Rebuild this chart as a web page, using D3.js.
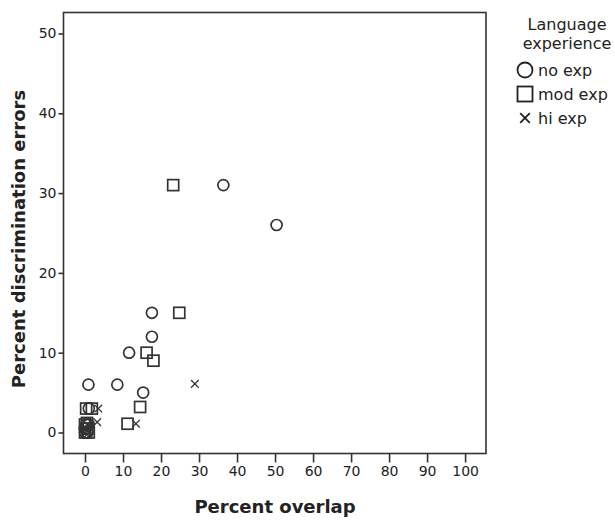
<!DOCTYPE html>
<html>
<head>
<meta charset="utf-8">
<script src="https://cdn.jsdelivr.net/npm/d3@7"></script>
<style>
  body { margin: 0; background: #fff; }
  svg text { font-family: "DejaVu Sans", sans-serif; fill: #222; }
</style>
</head>
<body>
<div id="chart"></div>
<script>
// Percent overlap (x) vs percent discrimination errors (y), per language experience group
const noExp  = [[36.4,31],[50.4,26],[17.6,15],[17.6,12],[11.6,10],[0.9,6],[8.5,6],[15.3,5],[1,3],[0,0],[0.3,1],[0.6,0],[0,0.5],[1,1]];
const modExp = [[23.2,31],[24.8,15],[16.2,10],[18,9],[14.5,3.2],[11.2,1.1],[0.3,3],[1.8,3],[0,0],[0,1],[0.6,0.5],[1,0],[0.5,1.2]];
const hiExp  = [[28.9,6.1],[13.4,1.1],[3.5,3],[3.2,1.3],[0,0.5],[0.5,1],[1,0],[0,0],[0.8,0.3]];

const groups = ['no exp', 'mod exp', 'hi exp'];
const shapes = ['circle', 'square', 'cross'];
const xTicks = d3.range(0, 101, 10);
const yTicks = d3.range(0, 51, 10);

const width = 615, height = 521;
// frame of the plot, the domain runs a bit past the tick range like SPSS does
const frame = {left: 63.5, right: 486, top: 12.5, bottom: 453.5};

const svg = d3.select('#chart').append('svg')
    .attr('width', width)
    .attr('height', height);

let x = d3.scaleLinear().domain([-5.66, 105.5]).range([frame.left, frame.right]);
let y = d3.scaleLinear().domain([-2.63, 52.63]).range([frame.bottom, frame.top]);

// axes
let yAxis = svg.append('g')
    .attr('transform', `translate(${frame.left},0)`)
    .call(d3.axisLeft(y).tickValues(yTicks).tickSize(5).tickPadding(2));
let xAxis = svg.append('g')
    .attr('transform', `translate(0,${frame.bottom})`)
    .call(d3.axisBottom(x).tickValues(xTicks).tickSize(9).tickPadding(4));

[xAxis, yAxis].forEach(a => {
    a.select('.domain').remove();
    a.selectAll('.tick line').attr('stroke', '#333').attr('stroke-width', 1.6);
    a.selectAll('.tick text')
        .attr('font-size', 14)
        .attr('font-family', '"DejaVu Sans", sans-serif')
        .attr('fill', '#333');
});

svg.append('rect')
    .attr('x', frame.left)
    .attr('y', frame.top)
    .attr('width', frame.right - frame.left)
    .attr('height', frame.bottom - frame.top)
    .attr('fill', 'none')
    .attr('stroke', '#333')
    .attr('stroke-width', 1.6);

// axis titles
svg.append('text')
    .attr('x', (x(0) + x(100)) / 2)
    .attr('y', 513)
    .attr('text-anchor', 'middle')
    .attr('font-size', 18)
    .attr('font-weight', 'bold')
    .attr('fill', '#111')
    .text('Percent overlap');

svg.append('text')
    .attr('transform', `translate(25,${(frame.top + frame.bottom) / 2 + 6}) rotate(-90)`)
    .attr('text-anchor', 'middle')
    .attr('font-size', 18)
    .attr('font-weight', 'bold')
    .attr('fill', '#111')
    .text('Percent discrimination errors');

// marker drawing
function marker(sel, shape, s) {
    if (shape === 'circle') {
        sel.append('circle').attr('r', s / 2);
    } else if (shape === 'square') {
        sel.append('rect').attr('x', -s / 2).attr('y', -s / 2).attr('width', s).attr('height', s);
    } else {
        let h = s * 0.32;
        sel.append('path').attr('d', `M${-h},${-h}L${h},${h}M${-h},${h}L${h},${-h}`);
    }
}

const series = [noExp, modExp, hiExp];
let points = svg.append('g');
series.forEach((data, i) => {
    data.forEach(d => {
        let g = points.append('g')
            .attr('transform', `translate(${x(d[0])},${y(d[1])})`)
            .attr('fill', 'none')
            .attr('stroke', '#333')
            .attr('stroke-width', shapes[i] === 'cross' ? 1.3 : 1.7);
        marker(g, shapes[i], shapes[i] === 'cross' ? 12 : 11);
    });
});

// legend
let legend = svg.append('g');
legend.append('text')
    .attr('x', 567).attr('y', 30)
    .attr('text-anchor', 'middle')
    .attr('font-size', 16)
    .text('Language');
legend.append('text')
    .attr('x', 567).attr('y', 49)
    .attr('text-anchor', 'middle')
    .attr('font-size', 16)
    .text('experience');

let items = legend.selectAll('.item')
    .data(groups)
    .enter().append('g')
        .attr('class', 'item')
        .attr('transform', (d, i) => `translate(525,${70 + i * 24})`);

items.each(function(d, i) {
    let g = d3.select(this).append('g')
        .attr('fill', 'none')
        .attr('stroke', '#222')
        .attr('stroke-width', shapes[i] === 'cross' ? 1.8 : 1.8);
    marker(g, shapes[i], shapes[i] === 'cross' ? 15 : 15);
});

items.append('text')
    .attr('x', 13)
    .attr('y', 6)
    .attr('font-size', 16)
    .text(d => d);
</script>
</body>
</html>
